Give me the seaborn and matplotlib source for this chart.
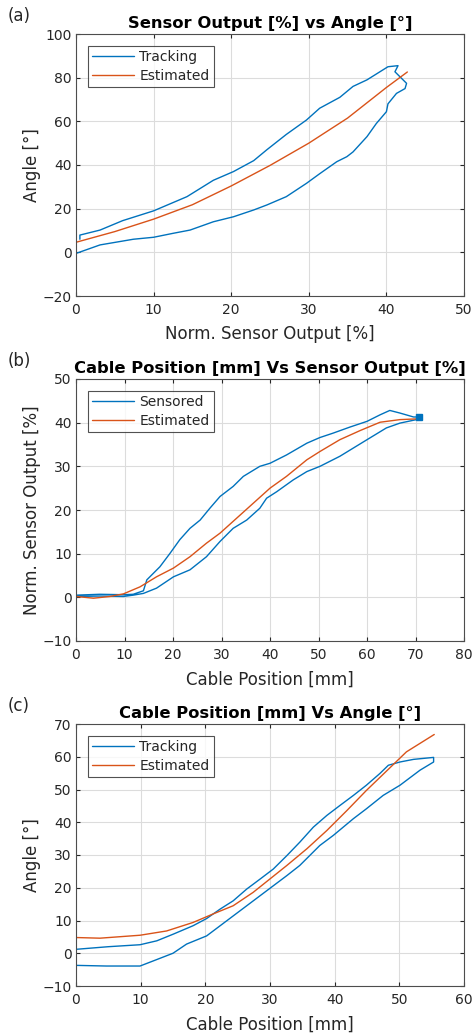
import numpy as np
import pandas as pd
import matplotlib
matplotlib.use("Agg")
import matplotlib.pyplot as plt
import seaborn as sns

# ---------------- Data ----------------
# (a) Sensor output vs angle
a_track_x = [0.0, 3.1, 7.4, 10.0, 12.5, 14.7, 17.7, 20.3, 22.9, 24.6, 27.1, 29.7, 31.4, 33.6, 34.9,
             35.7, 37.5, 38.7, 40.0, 40.2, 41.3, 42.4, 42.6, 41.1, 41.5, 40.2, 37.5, 35.7, 34.0,
             31.4, 29.7, 27.1, 24.6, 22.9, 20.3, 17.7, 14.3, 10.0, 6.0, 3.1, 0.5, 0.5]
a_track_y = [-0.5, 3.4, 6.0, 6.9, 8.7, 10.2, 14.0, 16.3, 19.4, 21.7, 25.5, 31.6, 36.0, 41.5, 43.8,
             46.0, 53.0, 59.0, 64.4, 68.0, 72.8, 75.0, 77.4, 82.7, 85.5, 85.0, 79.0, 76.0, 71.0,
             66.0, 60.6, 54.0, 47.0, 42.0, 37.0, 33.0, 25.5, 19.0, 14.5, 10.2, 7.9, 6.0]
a_est_x = [0.0, 5.0, 10.0, 15.0, 20.0, 25.0, 30.0, 35.0, 40.0, 42.7]
a_est_y = [4.6, 9.5, 15.2, 21.8, 30.4, 39.8, 50.0, 61.5, 75.5, 82.6]

# (b) Cable position vs sensor output
b_sens_x = [0.0, 4.9, 9.8, 11.8, 13.9, 14.6, 17.3, 19.4, 21.4, 23.5, 25.6, 27.6, 29.7, 32.4, 34.5,
            37.9, 40.0, 43.4, 47.6, 50.3, 53.0, 56.5, 60.0, 62.7, 64.7, 66.8, 69.6, 71.0, 70.2,
            66.8, 64.0, 60.0, 57.2, 54.4, 50.3, 47.6, 44.8, 41.4, 39.3, 37.9, 35.2, 32.4, 29.7,
            26.9, 23.5, 20.1, 16.6, 13.9, 11.8, 9.8, 4.9, 0.0]
b_sens_y = [0.5, 0.7, 0.6, 0.7, 1.5, 4.0, 7.0, 10.1, 13.2, 15.8, 17.7, 20.4, 23.1, 25.4, 27.7,
            30.0, 30.7, 32.6, 35.3, 36.6, 37.6, 39.0, 40.3, 41.8, 42.8, 42.2, 41.3, 41.3, 40.7,
            39.9, 38.8, 36.1, 34.2, 32.3, 30.0, 28.8, 26.9, 24.2, 22.7, 20.4, 17.7, 15.8, 12.8,
            9.3, 6.3, 4.7, 2.1, 0.9, 0.5, 0.2, 0.3, 0.2]
b_est_x = [0.0, 3.6, 7.0, 9.8, 13.2, 16.6, 20.1, 23.5, 26.9, 29.7, 32.4, 36.6, 40.0, 43.4, 47.6,
           50.3, 54.4, 58.6, 62.7, 66.8, 71.0]
b_est_y = [0.2, -0.2, 0.2, 0.8, 2.4, 4.7, 6.7, 9.3, 12.4, 14.7, 17.4, 21.6, 25.0, 27.7, 31.5,
           33.4, 36.1, 38.2, 40.1, 40.7, 40.9]

# (c) Cable position vs angle
c_track_x = [0.0, 0.0, 0.0, 4.7, 9.9, 12.0, 15.0, 17.1, 20.2, 23.3, 26.4, 29.5, 32.6, 34.6, 37.7,
             39.8, 42.9, 44.9, 47.5, 50.1, 53.2, 55.3, 55.3, 52.2, 50.1, 48.3, 47.0, 44.9, 42.9,
             40.8, 38.8, 36.7, 34.6, 32.6, 30.5, 28.5, 26.4, 24.3, 22.3, 20.2, 18.1, 15.0, 12.5,
             9.9, 5.0, 0.0]
c_track_y = [-6.4, -3.7, -3.7, -3.9, -3.9, -2.3, 0.0, 2.8, 5.3, 9.9, 14.5, 19.1, 23.7, 26.8, 32.9,
             36.0, 41.1, 44.1, 48.2, 51.3, 55.9, 58.4, 59.8, 59.2, 58.4, 57.4, 54.9, 51.3, 48.2,
             45.1, 42.1, 38.5, 33.9, 29.8, 25.7, 22.7, 19.6, 16.0, 13.5, 10.6, 8.4, 5.8, 3.8,
             2.6, 2.0, 1.2]
c_est_x = [0.0, 3.7, 9.9, 14.0, 18.1, 21.2, 24.3, 27.4, 30.0, 32.6, 35.7, 38.8, 41.9, 44.9, 48.0,
           51.1, 55.4]
c_est_y = [4.8, 4.6, 5.5, 6.8, 9.4, 12.0, 14.5, 18.6, 22.7, 26.8, 31.9, 37.5, 43.6, 49.7, 55.6,
           61.5, 66.8]

BLUE = "#0072BD"
ORANGE = "#D95319"
TXT = "#262626"

sns.set_style("ticks")
plt.rcParams["font.family"] = ["DejaVu Sans"]

W, H = 475, 1036
fig = plt.figure(figsize=(W / 100, H / 100), dpi=100)

panels = [
    dict(letter="(a)", title="Sensor Output [%] vs Angle [°]",
         xlabel="Norm. Sensor Output [%]", ylabel="Angle [°]",
         xlim=(0, 50), ylim=(-20, 100), xt=range(0, 51, 10), yt=range(-20, 101, 20),
         s1=(a_track_x, a_track_y, "Tracking"), s2=(a_est_x, a_est_y, "Estimated"),
         top=34, bottom=296, marker=None),
    dict(letter="(b)", title="Cable Position [mm] Vs Sensor Output [%]",
         xlabel="Cable Position [mm]", ylabel="Norm. Sensor Output [%]",
         xlim=(0, 80), ylim=(-10, 50), xt=range(0, 81, 10), yt=range(-10, 51, 10),
         s1=(b_sens_x, b_sens_y, "Sensored"), s2=(b_est_x, b_est_y, "Estimated"),
         top=379, bottom=641, marker=(70.8, 41.3)),
    dict(letter="(c)", title="Cable Position [mm] Vs Angle [°]",
         xlabel="Cable Position [mm]", ylabel="Angle [°]",
         xlim=(0, 60), ylim=(-10, 70), xt=range(0, 61, 10), yt=range(-10, 71, 10),
         s1=(c_track_x, c_track_y, "Tracking"), s2=(c_est_x, c_est_y, "Estimated"),
         top=724, bottom=986, marker=None),
]

left_px, right_px = 76, 464
for p in panels:
    ax = fig.add_axes([left_px / W, 1 - p["bottom"] / H, (right_px - left_px) / W,
                       (p["bottom"] - p["top"]) / H])
    x1, y1, l1 = p["s1"]
    x2, y2, l2 = p["s2"]
    d1 = pd.DataFrame({"x": x1, "y": y1})
    d2 = pd.DataFrame({"x": x2, "y": y2})
    sns.lineplot(data=d1, x="x", y="y", sort=False, estimator=None, color=BLUE,
                 linewidth=1.0, ax=ax, label=l1)
    sns.lineplot(data=d2, x="x", y="y", sort=False, estimator=None, color=ORANGE,
                 linewidth=1.0, ax=ax, label=l2)
    if p["marker"] is not None:
        ax.plot([p["marker"][0]], [p["marker"][1]], marker="s", ms=4, color=BLUE)
    ax.set_xlim(*p["xlim"])
    ax.set_ylim(*p["ylim"])
    ax.set_xticks(list(p["xt"]))
    ax.set_yticks(list(p["yt"]))
    ax.grid(True, color="#dcdcdc", linewidth=0.8)
    ax.set_axisbelow(True)
    for s in ax.spines.values():
        s.set_visible(True)
        s.set_color("#4d4d4d")
        s.set_linewidth(0.8)
    ax.tick_params(direction="in", top=True, right=True, length=3, labelsize=10,
                   colors=TXT, pad=3)
    ax.tick_params(axis="x", pad=5)
    ax.set_xlabel(p["xlabel"], fontsize=12, color=TXT, labelpad=6)
    ax.set_ylabel(p["ylabel"], fontsize=12, color=TXT, labelpad=1)
    ax.set_title(p["title"], fontsize=11.8, fontweight="bold", color="black", pad=4)
    leg = ax.legend(loc="upper left", fontsize=10, frameon=True, fancybox=False,
                    handlelength=3.0, borderaxespad=0.85, labelspacing=0.35,
                    borderpad=0.3, handletextpad=0.4)
    leg.get_frame().set_edgecolor("#262626")
    leg.get_frame().set_linewidth(0.8)
    fig.text(8 / W, 1 - (p["top"] - 18) / H, p["letter"], fontsize=12, color=TXT,
             ha="left", va="center")

fig.savefig("out.png", dpi=100)
